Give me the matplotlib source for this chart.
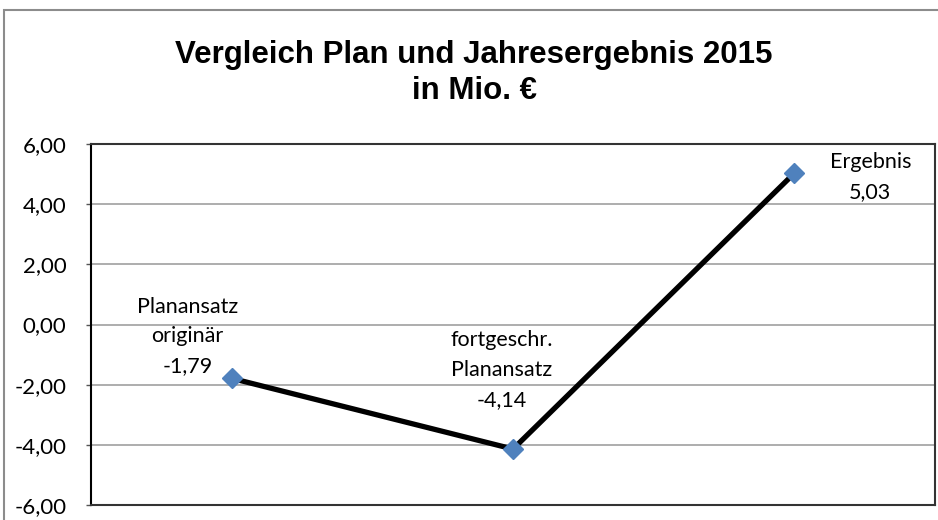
import matplotlib
matplotlib.use('Agg')
import matplotlib.pyplot as plt
from matplotlib.patches import Rectangle
from matplotlib.ticker import FuncFormatter

# chart data
categories = ['Planansatz\noriginär', 'fortgeschr.\nPlanansatz', 'Ergebnis']
values = [-1.79, -4.14, 5.03]
y_ticks = [-6, -4, -2, 0, 2, 4, 6]
title = 'Vergleich Plan und Jahresergebnis 2015\nin Mio. €'

label_font = 'Lato'


def de_num(v):
    return f'{v:.2f}'.replace('.', ',')


fig = plt.figure(figsize=(9.38, 5.2), dpi=100)
ax = fig.add_axes([91 / 938, 1 - 505 / 520, (935 - 91) / 938, (505 - 144) / 520])

# outer chart frame
fig.patches.append(Rectangle((4 / 938, -0.1), 1.2, (520 - 10) / 520 + 0.1,
                             transform=fig.transFigure, fill=False,
                             edgecolor='#8c8c8c', linewidth=1.5))

x = list(range(len(values)))
ax.plot(x, values, color='black', linewidth=3.8, zorder=3,
        marker='D', markersize=10, markerfacecolor='#4f81bd',
        markeredgecolor='#4f81bd')

ax.set_xlim(-0.5, len(values) - 0.5)
ax.set_ylim(-6, 6)
ax.set_yticks(y_ticks)
ax.yaxis.set_major_formatter(FuncFormatter(lambda v, p: de_num(v)))
ax.set_xticks([])
ax.grid(axis='y', color='#a0a0a0', linewidth=1.2)
ax.set_axisbelow(True)
ax.tick_params(axis='y', length=3.6, width=1, color='#555555', pad=14,
               labelsize=16)
for lab in ax.get_yticklabels():
    lab.set_fontfamily(label_font)

for side in ['top', 'right', 'bottom']:
    ax.spines[side].set_color('#333333')
    ax.spines[side].set_linewidth(1.5)
ax.spines['left'].set_color('black')
ax.spines['left'].set_linewidth(1.5)

# data labels (offsets in pixels from the marker)
offsets = [(-44, 42), (-11, 79), (76, -4)]
for xi, (cat, val, (dx, dy)) in enumerate(zip(categories, values, offsets)):
    txt = f'{cat}\n{de_num(val)}'
    ax.annotate(txt, (xi, val), xytext=(dx, dy), textcoords='offset pixels',
                ha='center', va='center', fontsize=15.5, family=label_font,
                linespacing=1.6, zorder=4)

fig.text(474 / 938, 1 - 73 / 520, title, ha='center', va='center',
         fontsize=22.5, fontweight='bold', family='Liberation Sans',
         linespacing=1.25)

fig.savefig('out.png', dpi=100)
